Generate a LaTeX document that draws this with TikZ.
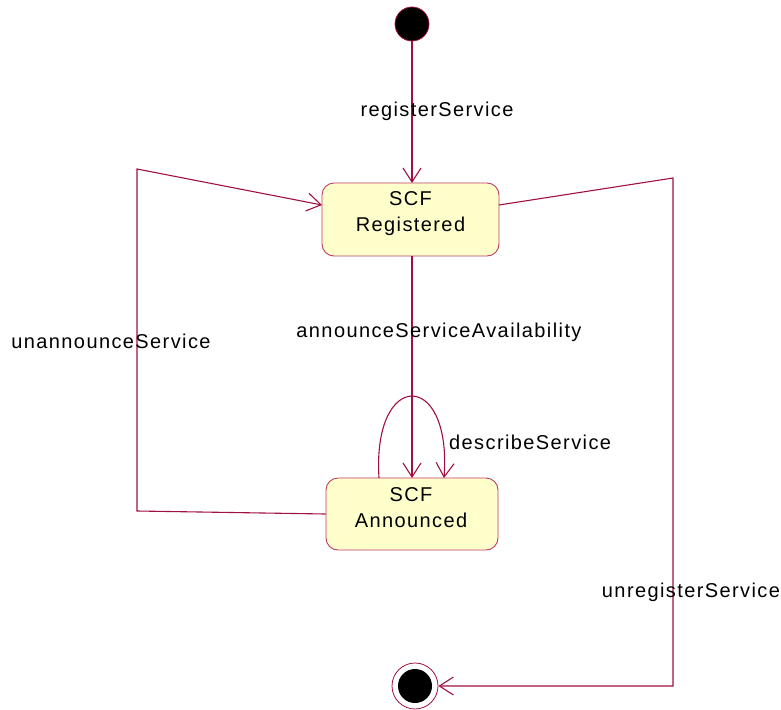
\documentclass[tikz,border=0pt]{standalone}
\usepackage{fontspec}
\setmainfont{Liberation Sans}[LetterSpace=7]
\usetikzlibrary{arrows.meta}
\definecolor{lc}{RGB}{160,16,64}
\definecolor{bc}{RGB}{190,60,100}
\definecolor{fillc}{RGB}{255,255,204}
\begin{document}
\begin{tikzpicture}[x=1pt,y=-1pt,
  every node/.style={font=\fontsize{20}{26}\selectfont},
  statebox/.style={draw=bc,fill=fillc,rounded corners=12pt,line width=0.9pt,minimum width=177pt,minimum height=73pt,inner sep=0pt},
  boxtext/.style={inner sep=0pt,align=center},
  conn/.style={draw=lc,line width=1.1pt},
  arr/.style={conn,-{Straight Barb[length=14pt,width=18pt,line width=1.1pt]}},
  lbl/.style={inner sep=0pt}]
\useasboundingbox (0,0) rectangle (781,709);
\node[circle,draw=lc,fill=black,minimum size=34pt,inner sep=0pt,line width=0.8pt] (init) at (412,24) {};
\node[statebox] (reg) at (410.5,219.5) {};
\node[boxtext] (regt) at (410.5,214) {SCF\\Registered};
\node[statebox,minimum width=172pt,minimum height=72pt] (ann) at (412,514) {};
\node[boxtext] (annt) at (411,508) {SCF\\Announced};
\node[circle,draw=lc,minimum size=46pt,inner sep=0pt,line width=0.8pt] (final) at (415,686) {};
\fill[black] (final.center) circle (17);
% registerService
\draw[arr] (init.south) -- (412,183);
\node[lbl] (l1) at (437,111) {registerService};
% announceServiceAvailability
\draw[arr] (412,256) -- (412,478);
\node[lbl] (l2) at (439,332) {announceServiceAvailability};
% self loop
\draw[arr] (379,478) .. controls (372,369) and (452,369) .. (444,478);
\node[lbl,anchor=west] (l3) at (449,442) {describeService};
% unannounceService
\coordinate (u1) at (137,511);
\coordinate (u2) at (137,169);
\draw[arr] (ann.west) -- (u1) -- (u2) -- (322,205);
\node[lbl] (l4) at (111,341) {unannounceService};
% unregisterService
\coordinate (r1) at (673,178);
\coordinate (r2) at (673,686);
\draw[arr] (499,205) -- (r1) -- (r2) -- (final.east);
\node[lbl] (l5) at (691,592) {unregisterService};
\end{tikzpicture}
\end{document}
